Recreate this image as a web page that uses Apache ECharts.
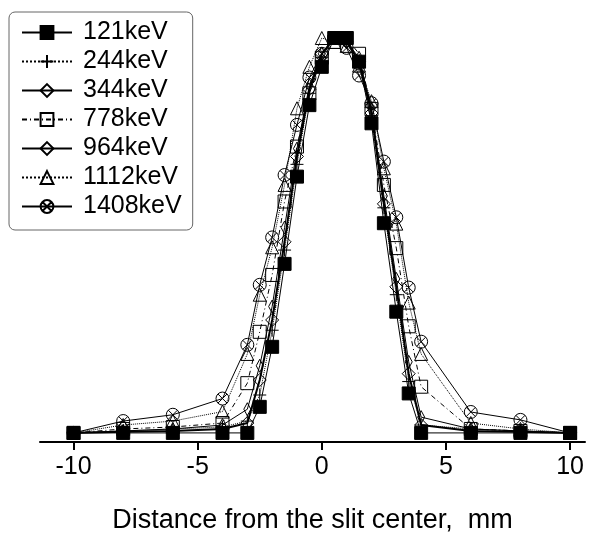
<!DOCTYPE html>
<html>
<head>
    <meta charset="utf-8">
    <script type="text/javascript" src="https://cdn.jsdelivr.net/npm/echarts@6/dist/echarts.min.js"></script>
</head>
<body style="margin:0; background-color:#fff">
<div id="main" style="width:590px;height:550px;"></div>
<script type="text/javascript">
    // distance from slit center, mm
    var xs = [-10, -8, -6, -4, -3, -2.5, -2, -1.5, -1, -0.5, 0, 0.5, 1, 1.5, 2, 2.5, 3, 3.5, 4, 6, 8, 10];
    // normalized counts per energy
    var e121  = [0, 0, 0, 0, 0, 0.066, 0.218, 0.428, 0.649, 0.83, 0.927, 1.0, 1.0, 0.94, 0.784, 0.531, 0.307, 0.10, 0, 0, 0, 0];
    var e244  = [0, 0.005, 0.01, 0.015, 0.03, 0.096, 0.26, 0.463, 0.68, 0.86, 0.95, 1.0, 0.99, 0.93, 0.8, 0.57, 0.35, 0.13, 0.02, 0.01, 0.005, 0];
    var e344  = [0, 0.003, 0.005, 0.01, 0.025, 0.134, 0.286, 0.484, 0.7, 0.87, 0.96, 1.0, 0.99, 0.94, 0.81, 0.58, 0.37, 0.15, 0.02, 0.005, 0.003, 0];
    var e778  = [0, 0.01, 0.015, 0.025, 0.126, 0.256, 0.4, 0.586, 0.725, 0.86, 0.95, 0.99, 1.0, 0.96, 0.82, 0.628, 0.468, 0.27, 0.117, 0.01, 0.005, 0];
    var e964  = [0, 0.005, 0.01, 0.02, 0.06, 0.17, 0.32, 0.52, 0.72, 0.88, 0.96, 1.0, 0.99, 0.95, 0.82, 0.6, 0.39, 0.18, 0.04, 0.01, 0.005, 0];
    var e1112 = [0, 0.02, 0.03, 0.054, 0.2, 0.35, 0.47, 0.628, 0.822, 0.927, 1.0, 0.99, 0.98, 0.93, 0.84, 0.67, 0.53, 0.33, 0.2, 0.025, 0.01, 0];
    var e1408 = [0, 0.03, 0.046, 0.087, 0.223, 0.375, 0.495, 0.653, 0.78, 0.9, 0.96, 1.0, 0.975, 0.905, 0.835, 0.687, 0.546, 0.368, 0.231, 0.053, 0.033, 0];
    var names = ['121keV', '244keV', '344keV', '778keV', '964keV', '1112keV', '1408keV'];
    var tickVals = [-10, -5, 0, 5, 10];

    var plusPath = 'path://M0 -1 L0 1 M-1 0 L1 0';
    var crossCircle = 'path://M-1 0 A1 1 0 1 1 1 0 A1 1 0 1 1 -1 0 Z M-0.7 -0.7 L0.7 0.7 M0.7 -0.7 L-0.7 0.7';
    var thinDiamond = 'path://M0 -13 L7 0 L0 13 L-7 0 Z';

    function pairs(ys) {
        return xs.map(function (x, i) { return [x, ys[i]]; });
    }

    function mk(name, ys, symbol, size, line, fill, z) {
        return {
            name: name,
            type: 'line',
            data: pairs(ys),
            symbol: symbol,
            symbolSize: size,
            symbolKeepAspect: true,
            clip: false,
            z: z || 2,
            lineStyle: line,
            itemStyle: { color: fill || 'transparent', borderColor: '#000', borderWidth: 1 }
        };
    }

    var series = [
        mk(names[0], e121, 'rect', 13, { color: '#000', width: 1, type: 'solid' }, '#000', 4),
        mk(names[1], e244, plusPath, 13, { color: '#000', width: 1, type: 'dotted' }),
        mk(names[2], e344, 'diamond', 13, { color: '#000', width: 2, type: 'solid' }),
        mk(names[3], e778, 'rect', 13, { color: '#000', width: 1, type: [5, 3, 1, 3] }),
        mk(names[4], e964, thinDiamond, 13, { color: '#000', width: 1, type: 'solid' }),
        mk(names[5], e1112, 'triangle', 13, { color: '#000', width: 1, type: 'dotted' }),
        mk(names[6], e1408, crossCircle, 13, { color: '#000', width: 1, type: 'solid' })
    ];

    var myChart = echarts.init(document.getElementById('main'), null, { renderer: 'canvas' });
    var option = {
        animation: false,
        backgroundColor: '#fff',
        grid: { left: 40, right: 5, top: 38, bottom: 108 },
        legend: {
            data: names,
            orient: 'vertical',
            left: 9,
            top: 12,
            padding: [8, 11, 11, 12],
            borderColor: '#666',
            borderWidth: 1,
            borderRadius: 6,
            itemWidth: 50,
            itemHeight: 16,
            itemGap: 4,
            textStyle: {
                fontFamily: 'Liberation Sans, Arial, sans-serif',
                fontSize: 25,
                lineHeight: 25,
                color: '#000',
                padding: [0, 0, 0, 6]
            }
        },
        xAxis: {
            type: 'value',
            min: -11.35,
            max: 10.6,
            interval: 5,
            splitLine: { show: false },
            axisLine: { onZero: false, lineStyle: { color: '#000', width: 2 } },
            axisTick: { show: true, length: 8, lineStyle: { color: '#000', width: 2 }, customValues: tickVals },
            axisLabel: {
                customValues: tickVals,
                fontFamily: 'Liberation Sans, Arial, sans-serif',
                fontSize: 25,
                color: '#000',
                margin: 13
            },
            name: 'Distance from the slit center,  mm',
            nameLocation: 'middle',
            nameGap: 65,
            nameTextStyle: {
                fontFamily: 'Liberation Sans, Arial, sans-serif',
                fontSize: 27,
                color: '#000'
            }
        },
        yAxis: {
            type: 'value',
            min: -0.023,
            max: 1,
            show: false
        },
        series: series
    };
    myChart.setOption(option);
</script>
</body>
</html>
